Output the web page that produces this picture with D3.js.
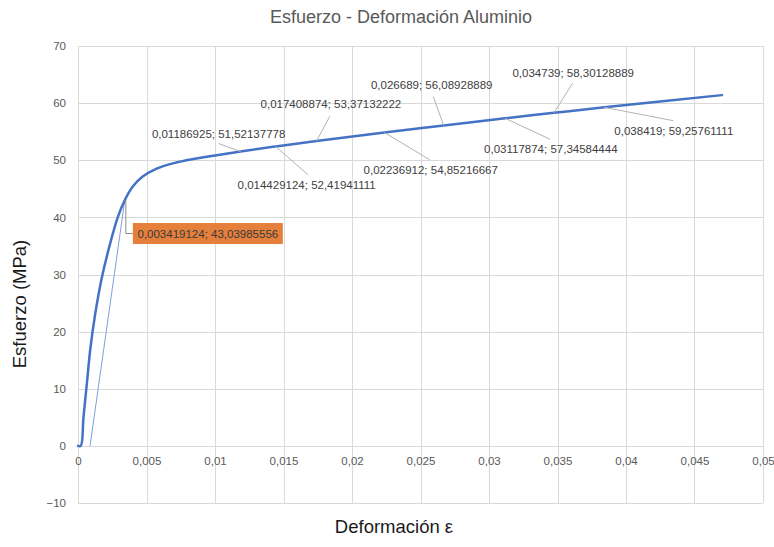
<!DOCTYPE html>
<html>
<head>
<meta charset="utf-8">
<script src="https://cdn.jsdelivr.net/npm/d3@7"></script>
<style>
  body { margin: 0; background: #fff; }
  text { font-family: "Liberation Sans", Arial, sans-serif; }
</style>
</head>
<body>
<div id="chart"></div>
<script>
// curva esfuerzo - deformacion
let strain = [0, 0.0002, 0.0004, 0.00065, 0.0009, 0.00125, 0.0017, 0.0023, 0.0029, 0.003419124,
    0.004, 0.0047, 0.0057, 0.007, 0.0085, 0.01, 0.01186925, 0.014429124, 0.017408874,
    0.02236912, 0.026689, 0.03117874, 0.034739, 0.038419, 0.047];
let stress = [0, 0, 5, 11, 17, 23, 29, 35, 40, 43.03985556,
    45.4, 47.1, 48.5, 49.5, 50.25, 50.85, 51.52137778, 52.41941111, 53.37132222,
    54.85216667, 56.08928889, 57.34584444, 58.30128889, 59.25761111, 61.4];

// linea auxiliar (paralela al tramo elastico)
let offsetStrain = [0.00088, 0.003419124];
let offsetStress = [0, 43.03985556];

// puntos con etiqueta
let labelStrain = [0.01186925, 0.014429124, 0.017408874, 0.02236912, 0.026689, 0.03117874, 0.034739, 0.038419];
let labelStress = [51.52137778, 52.41941111, 53.37132222, 54.85216667, 56.08928889, 57.34584444, 58.30128889, 59.25761111];
let labelText = ["0,01186925; 51,52137778", "0,014429124; 52,41941111", "0,017408874; 53,37132222",
    "0,02236912; 54,85216667", "0,026689; 56,08928889", "0,03117874; 57,34584444",
    "0,034739; 58,30128889", "0,038419; 59,25761111"];
// desplazamientos de texto y de la linea guia (px)
let labelOffset = [
    { tx: -22, ty: -18, lx: -22, ly: -8 },
    { tx: 31, ty: 38.5, lx: 32.5, ly: 28.5 },
    { tx: 14.4, ty: -37, lx: 13.5, ly: -25 },
    { tx: 46.3, ty: 37.4, lx: 45.5, ly: 27.4 },
    { tx: -11.9, ty: -40.5, lx: -10.3, ly: -28.8 },
    { tx: 45.7, ty: 31, lx: 44.9, ly: 21 },
    { tx: 19.3, ty: -39.7, lx: 18.7, ly: -29.7 },
    { tx: 69.5, ty: 23.6, lx: 68.9, ly: 13.3 }
];

let yieldStrain = 0.003419124;
let yieldStress = 43.03985556;
let yieldText = "0,003419124; 43,03985556";

let xTicks = [0, 0.005, 0.01, 0.015, 0.02, 0.025, 0.03, 0.035, 0.04, 0.045, 0.05];
let yTicks = [-10, 0, 10, 20, 30, 40, 50, 60, 70];

let width = 774;
let height = 547;
let margin = ({ top: 46, right: 11, bottom: 44, left: 78 });

let x = d3.scaleLinear()
    .domain([0, 0.05])
    .range([margin.left, width - margin.right]);

let y = d3.scaleLinear()
    .domain([-10, 70])
    .range([height - margin.bottom, margin.top]);

let fmt = d => String(d).replace(".", ",");

let svg = d3.select("#chart")
    .append("svg")
    .attr("width", width)
    .attr("height", height);

// rejilla
svg.append("g")
    .attr("stroke", "#d9d9d9")
    .attr("stroke-width", 1)
    .selectAll("line")
    .data(xTicks)
    .join("line")
    .attr("x1", d => Math.round(x(d)) + 0.5)
    .attr("x2", d => Math.round(x(d)) + 0.5)
    .attr("y1", y(70))
    .attr("y2", y(-10));

svg.append("g")
    .attr("stroke", "#d9d9d9")
    .attr("stroke-width", 1)
    .selectAll("line")
    .data(yTicks)
    .join("line")
    .attr("x1", x(0))
    .attr("x2", x(0.05))
    .attr("y1", d => Math.round(y(d)) + 0.5)
    .attr("y2", d => Math.round(y(d)) + 0.5);

// ejes (solo etiquetas)
let xAxis = g => g
    .attr("transform", `translate(0,${y(0)})`)
    .call(d3.axisBottom(x).tickValues(xTicks).tickFormat(fmt).tickSize(0).tickPadding(11))
    .call(g => g.select(".domain").remove())
    .call(g => g.selectAll("text")
        .attr("fill", "#595959")
        .attr("font-size", 11.5)
        .attr("font-family", "Liberation Sans, Arial, sans-serif"));

let yAxis = g => g
    .attr("transform", `translate(${x(0)},0)`)
    .call(d3.axisLeft(y).tickValues(yTicks).tickSize(0).tickPadding(12))
    .call(g => g.select(".domain").remove())
    .call(g => g.selectAll("text")
        .attr("fill", "#595959")
        .attr("font-size", 11.5)
        .attr("font-family", "Liberation Sans, Arial, sans-serif"));

svg.append("g").call(xAxis);
svg.append("g").call(yAxis);

// titulos
svg.append("text")
    .attr("x", 401)
    .attr("y", 17)
    .attr("dy", "0.35em")
    .attr("text-anchor", "middle")
    .attr("fill", "#595959")
    .attr("font-size", 18)
    .text("Esfuerzo - Deformación Aluminio");

svg.append("text")
    .attr("x", 394)
    .attr("y", 527)
    .attr("dy", "0.35em")
    .attr("text-anchor", "middle")
    .attr("fill", "#1a1a1a")
    .attr("font-size", 18.5)
    .text("Deformación  ε");

svg.append("text")
    .attr("transform", "translate(20,304) rotate(-90)")
    .attr("dy", "0.35em")
    .attr("text-anchor", "middle")
    .attr("fill", "#1a1a1a")
    .attr("font-size", 18.5)
    .text("Esfuerzo (MPa)");

// linea auxiliar
let offsetData = offsetStrain.map((d, i) => ({ x: d, y: offsetStress[i] }));
svg.append("path")
    .datum(offsetData)
    .attr("fill", "none")
    .attr("stroke", "#7f9fd8")
    .attr("stroke-width", 1)
    .attr("d", d3.line().x(d => x(d.x)).y(d => y(d.y)));

// curva principal
let curve = strain.map((d, i) => ({ x: d, y: stress[i] }));
svg.append("path")
    .datum(curve)
    .attr("fill", "none")
    .attr("stroke", "#4472c4")
    .attr("stroke-width", 2.5)
    .attr("stroke-linejoin", "round")
    .attr("stroke-linecap", "round")
    .attr("d", d3.line().curve(d3.curveCatmullRom.alpha(0.5)).x(d => x(d.x)).y(d => y(d.y)));

// etiquetas de datos
let labels = labelStrain.map((d, i) => ({ x: d, y: labelStress[i], text: labelText[i], o: labelOffset[i] }));

svg.append("g")
    .attr("stroke", "#b3b3b3")
    .attr("stroke-width", 1)
    .selectAll("line")
    .data(labels)
    .join("line")
    .attr("x1", d => x(d.x))
    .attr("y1", d => y(d.y))
    .attr("x2", d => x(d.x) + d.o.lx)
    .attr("y2", d => y(d.y) + d.o.ly);

svg.append("g")
    .attr("font-size", 11.5)
    .attr("fill", "#404040")
    .attr("text-anchor", "middle")
    .selectAll("text")
    .data(labels)
    .join("text")
    .attr("x", d => x(d.x) + d.o.tx)
    .attr("y", d => y(d.y) + d.o.ty)
    .attr("dy", "0.35em")
    .text(d => d.text);

// etiqueta resaltada del limite elastico
let px = x(yieldStrain), py = y(yieldStress);
svg.append("path")
    .attr("fill", "none")
    .attr("stroke", "#8c8c8c")
    .attr("stroke-width", 1)
    .attr("d", `M${px + 1},${py}V${py + 33.5}H${px + 8}`);

svg.append("rect")
    .attr("x", px + 8)
    .attr("y", py + 23)
    .attr("width", 150)
    .attr("height", 21)
    .attr("fill", "#e57f3c");

svg.append("text")
    .attr("x", px + 83)
    .attr("y", py + 33.5)
    .attr("dy", "0.35em")
    .attr("text-anchor", "middle")
    .attr("font-size", 11.5)
    .attr("fill", "#3a3a3a")
    .text(yieldText);
</script>
</body>
</html>
